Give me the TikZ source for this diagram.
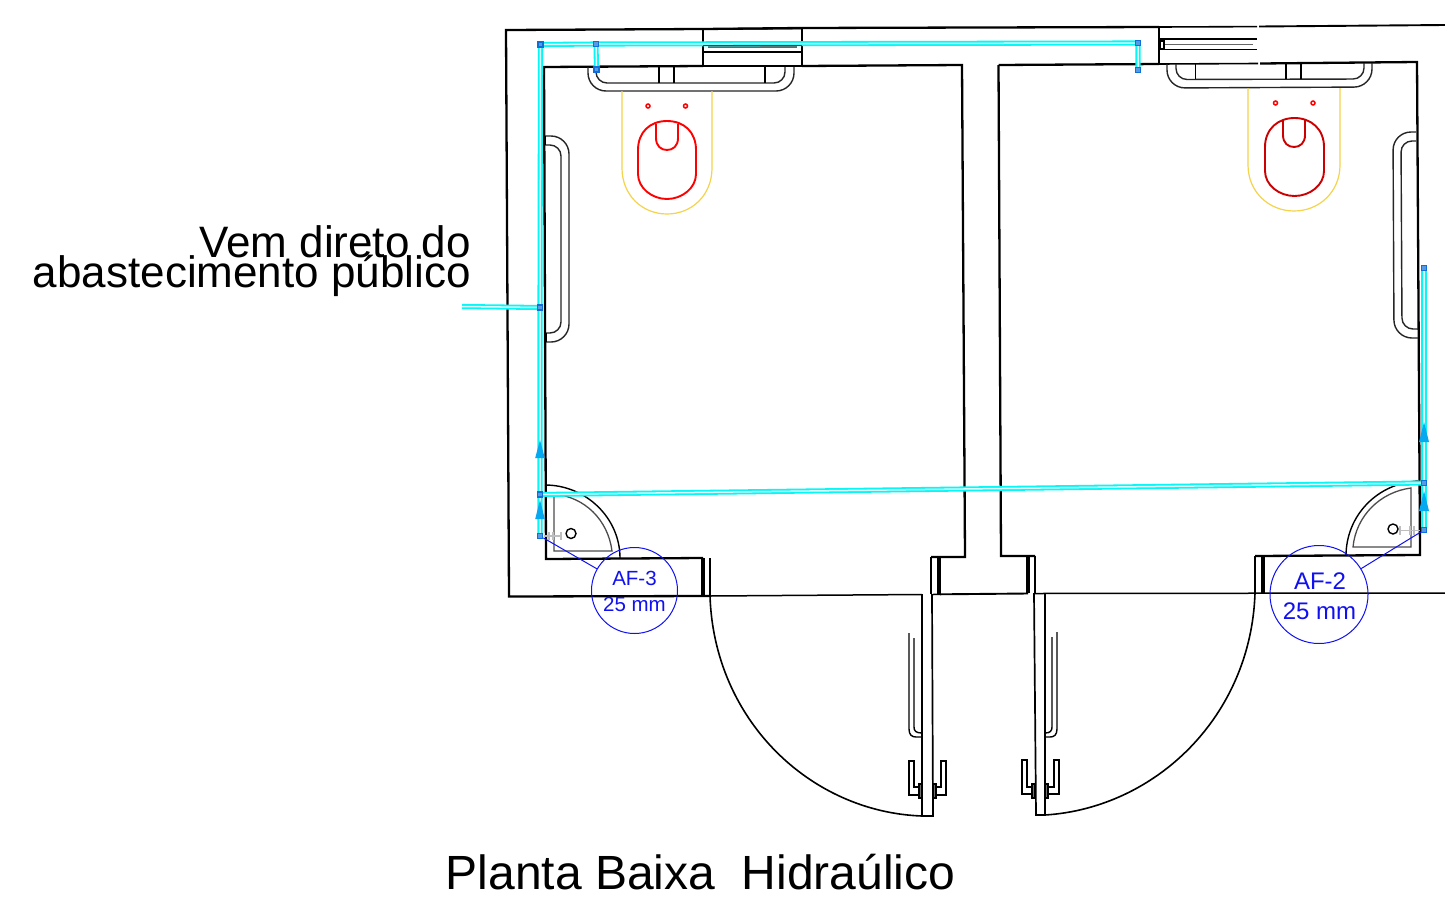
\documentclass[tikz,border=0pt]{standalone}
\usepackage{fontspec}
\setmainfont{Liberation Sans}
\definecolor{pipecyan}{HTML}{08F6F6}
\definecolor{jointblue}{HTML}{0F6FD8}
\definecolor{arrowblue}{HTML}{06A8F0}
\definecolor{tagblue}{HTML}{1010F0}
\definecolor{seatyellow}{HTML}{F5D34A}
\definecolor{tapgray}{HTML}{BEBEBE}
\tikzset{
  wall/.style={draw=black,line width=2.3pt,line join=miter},
  thinline/.style={draw=black,line width=1.4pt},
  barline/.style={draw=black!85,line width=1.4pt,rounded corners=11pt},
  pipe/.style={draw=pipecyan,double=white!85!pipecyan,line width=1.8pt,double distance=1.5pt},
  joint/.style={draw=jointblue,fill=jointblue!70,line width=1.6pt,minimum size=5pt,inner sep=0pt,shape=rectangle},
  flowtip/.style={fill=arrowblue,draw=none},
  tag/.style={circle,draw=tagblue,line width=1pt,inner sep=0pt},
  tagtext/.style={text=tagblue,font=\fontsize{#1}{#1}\selectfont,inner sep=0pt},
  caption/.style={font=\fontsize{#1}{#1}\selectfont,text=black,inner sep=0pt},
  seat/.style={line width=1.9pt},
  tapline/.style={draw=tapgray,line width=1.9pt}
}
\begin{document}
\begin{tikzpicture}[x=1pt,y=-1pt]
\useasboundingbox (0,0) rectangle (1445,900);
\fill[white] (0,0) rectangle (1445,900);

% ---- outer walls
\draw[wall] (710,596) -- (509,596.5) -- (506,30) -- (703,29) -- (802,28) -- (1159,27);
\draw[wall,line width=1.6pt] (1159,27) -- (1257,26.6);
\draw[wall,line width=1.9pt] (1259,26.5) -- (1445,25);
\draw[thinline,line width=1.5pt] (710,596) -- (922,594.5) (933,594.5) -- (940,594.3);
\draw[wall,line width=1.9pt] (940,594.3) -- (1028,593.5);
\draw[thinline,line width=1.5pt] (1035,593.5) -- (1445,593);

% ---- left room
\draw[wall] (703,29) -- (703,66) (802,28) -- (802,66);
\draw[wall] (703,66) -- (544,67) -- (546,559) -- (703,558);
\draw[wall] (802,66) -- (962,65) -- (965,557) -- (931,557);
\draw[wall,line width=1.6pt] (703,66) -- (802,66);
% left window
\draw[thinline,line width=1.7pt] (703,29) -- (802,28.5) (703,52) -- (802,52);
\draw[draw=black!60,line width=1.3pt] (708,47) -- (797,47);
% right room
\draw[wall] (1159,27) -- (1159,64);
\draw[wall] (998.5,65) -- (1159,64);
\draw[wall,line width=1.6pt] (1159,64) -- (1258,63.5);
\draw[wall] (1260,63.5) -- (1417,62) -- (1420,555) -- (1255,556);
\draw[wall] (998.5,65) -- (1001,556) -- (1035,556);
% right window
\draw[wall,line width=1.8pt] (1160,39) -- (1257,39) (1160,49.5) -- (1257,49.5);
\draw[draw=black!60,line width=1.3pt] (1164,44.5) -- (1253,44.5);
\draw[thinline] (1160,41) rectangle (1164,49);

% ---- door jambs
\draw[thinline,line width=1.5pt] (702,558) -- (702,596) (704,558) -- (704,596) (710,558) -- (710,596);
\draw[thinline,line width=1.5pt] (931,557) -- (931,594) (938,557) -- (938,594) (940,557) -- (940,594);
\draw[thinline,line width=1.5pt] (1027,556) -- (1027,593) (1029,556) -- (1029,593) (1035,556) -- (1035,593);
\draw[thinline,line width=1.5pt] (1255,556) -- (1255,593) (1262,556) -- (1262,593) (1264,556) -- (1264,593);

% ---- door leaves and swings
\draw[thinline,line width=1.7pt] (922,594) -- (922,816) -- (933,816) -- (932,594);
\draw[thinline,line width=1.7pt] (1034,593) -- (1036,815) -- (1045,815) -- (1045,593);
\draw[draw=black,line width=1.6pt] (710,596) .. controls (714,720) and (810,812) .. (922,816);
\draw[draw=black,line width=1.6pt] (1255,593) .. controls (1251,716) and (1156,808) .. (1045,815);

% door handles
\draw[thinline] (909,633) -- (909,729) .. controls (909,735) and (912,737) .. (916,737) -- (922,737);
\draw[thinline] (914,638) -- (914,727) .. controls (914,731) and (916,733) .. (922,733);
\draw[thinline] (1057,632) -- (1057,729) .. controls (1057,735) and (1054,737) .. (1050,737) -- (1045,737);
\draw[thinline] (1052,637) -- (1052,727) .. controls (1052,731) and (1050,733) .. (1045,733);
% door brackets
\draw[thinline,line width=1.7pt] (919,787) -- (914,787) -- (914,761) -- (909,761) -- (909,795) -- (919,795);
\draw[thinline,line width=1.7pt] (936,787) -- (941,787) -- (941,761) -- (946,761) -- (946,795) -- (936,795);
\draw[thinline,line width=1.7pt] (1032,787) -- (1027,787) -- (1027,760) -- (1022,760) -- (1022,794) -- (1032,794);
\draw[thinline,line width=1.7pt] (1048,787) -- (1054,787) -- (1054,760) -- (1059,760) -- (1059,794) -- (1048,794);
\draw[thinline,fill=black!55] (919,784) rectangle (922,798) (933,784) rectangle (936,798)
  (1032,784) rectangle (1035,798) (1045,784) rectangle (1048,798);

% ---- grab bars behind toilets
\draw[barline,rounded corners=18pt] (588,67) -- (588,91) -- (794,91) -- (794,67);
\draw[barline] (596,67) -- (596,83) -- (785,83) -- (785,67);
\draw[thinline,line width=1.1pt] (659,66) -- (659,83) (674,66) -- (674,83) (765,66) -- (765,83);
\draw[barline,rounded corners=18pt] (1167,64) -- (1167,88) -- (1372,87) -- (1372,63);
\draw[barline] (1176,64) -- (1176,79.5) -- (1364,79) -- (1364,63);
\draw[thinline,line width=1.1pt] (1195.5,64) -- (1195.5,79) (1286,63) -- (1286,79) (1301,63) -- (1301,79);

% side grab bars
\draw[barline,rounded corners=18pt] (545,136) -- (569,136) -- (569,342) -- (546,342);
\draw[barline] (545,145) -- (561,145) -- (561,333) -- (546,333);
\draw[thinline,line width=1.1pt] (545,136) -- (545,145) (546,333) -- (546,342);
\draw[barline,rounded corners=18pt] (1416,132) -- (1393,132) -- (1394,338) -- (1418,338);
\draw[barline] (1416,141) -- (1401,141) -- (1402,329) -- (1418,329);

% ---- toilets
\draw[seatyellow,line width=1.2pt] (622,91) -- (622,168) .. controls (622,195) and (642,214) .. (667,214) .. controls (692,214) and (712,195) .. (712,168) -- (712,91);
\draw[red,seat] (638,150) .. controls (638,132) and (650,121) .. (667,121) .. controls (684,121) and (696,132) .. (696,150) -- (696,174) .. controls (696,188) and (682,199) .. (667,199) .. controls (652,199) and (638,188) .. (638,174) -- cycle;
\draw[red,seat] (656,124) -- (656,138) .. controls (656,146) and (661,150) .. (667,150) .. controls (673,150) and (678,146) .. (678,138) -- (678,124);
\draw[red,line width=1.5pt] (648,106) circle (2) (685.5,106) circle (2);

\draw[seatyellow,line width=1.2pt] (1248,88) -- (1248,165) .. controls (1248,192) and (1269,211) .. (1294,211) .. controls (1319,211) and (1340,192) .. (1340,165) -- (1340,88);
\draw[red!80!black,seat] (1265,147) .. controls (1265,129) and (1278,118) .. (1294.5,118) .. controls (1311,118) and (1324,129) .. (1324,147) -- (1324,171) .. controls (1324,185) and (1310,196) .. (1294.5,196) .. controls (1279,196) and (1265,185) .. (1265,171) -- cycle;
\draw[red!80!black,seat] (1283,120) -- (1283,135) .. controls (1283,143) and (1288,147) .. (1294,147) .. controls (1300,147) and (1305,143) .. (1305,135) -- (1305,120);
\draw[red,line width=1.5pt] (1275.5,103) circle (2) (1313,103) circle (2);

% ---- shower corners
\draw[thinline] (545,485) .. controls (586,485) and (620,518) .. (620,558);
\draw[draw=black!70,line width=1.3pt] (612,551) .. controls (608,520) and (585,497) .. (554,494) -- (554,551) -- cycle;
\draw[thinline] (571,533.5) circle (5);
\draw[thinline] (1346,556) .. controls (1346,515) and (1378,483) .. (1418,481);
\draw[draw=black!70,line width=1.3pt] (1353,547) .. controls (1356,516) and (1380,492) .. (1411,488) -- (1411,547) -- cycle;
\draw[thinline] (1393,529) circle (5);

% taps
\draw[tapline] (544,536) -- (562,536) (549,532) -- (549,540) (553,532) -- (553,540) (561,532) -- (561,540);
\draw[tapline] (1398,530.5) -- (1420,530.5) (1400,526) -- (1400,535) (1410,526) -- (1410,535) (1414,526) -- (1414,535);

% ---- junction coordinates
\coordinate (feed) at (462,306.5);
\coordinate (jA) at (540.5,44.5);
\coordinate (jB) at (596,44);
\coordinate (jC) at (596.5,69.5);
\coordinate (jD) at (1138,43);
\coordinate (jE) at (1138,70);
\coordinate (jF) at (540,307.5);
\coordinate (jG) at (540,494.5);
\coordinate (jH) at (540,536);
\coordinate (jI) at (1424,483);
\coordinate (jJ) at (1424,530);
\coordinate (jK) at (1424,268);

% ---- pipes
\draw[pipe] (feed) -- (jF);
\draw[pipe] (jH) -- (jG) -- (jF) -- (jA) -- (jB) -- (jD) -- (jE);
\draw[pipe] (jB) -- (jC);
\draw[pipe] (jG) -- (jI);
\draw[pipe] (jJ) -- (jI) -- (jK);
\draw[draw=black!60!pipecyan,line width=1pt] (703,45) -- (802,45);

% flow arrows
\fill[flowtip] (540,440) -- (544.8,458) -- (535.2,458) -- cycle;
\fill[flowtip] (540,500) -- (544.8,519) -- (535.2,519) -- cycle;
\fill[flowtip] (1424,422) -- (1429,442) -- (1419,442) -- cycle;
\fill[flowtip] (1424,491) -- (1429,511) -- (1419,511) -- cycle;

% joints
\foreach \j in {jA,jB,jC,jD,jE,jF,jG,jH,jI,jJ,jK}
  \node[joint] (n\j) at (\j) {};

% ---- tags
\node[tag,minimum size=86pt] (tagL) at (634.5,590.5) {};
\node[tag,minimum size=98pt] (tagR) at (1319,594.5) {};
\draw[tagblue,line width=1pt] (njH) -- (tagL);
\draw[tagblue,line width=1pt] (njJ) -- (tagR);
\node[tagtext=20.5] (af3) at (634.5,578) {AF-3};
\node[tagtext=20.5] (mm3) at (634.5,604) {25 mm};
\node[tagtext=24] (af2) at (1320,581) {AF-2};
\node[tagtext=24] (mm2) at (1319.5,611) {25 mm};

% ---- captions
\node[caption=44,anchor=base east] (t1) at (471,257) {Vem direto do};
\node[caption=44,anchor=base east] (t2) at (471,287) {abastecimento público};
\node[caption=48,anchor=base west] (t3) at (445.5,889) {Planta Baixa\ \ Hidraúlico};
\end{tikzpicture}
\end{document}
